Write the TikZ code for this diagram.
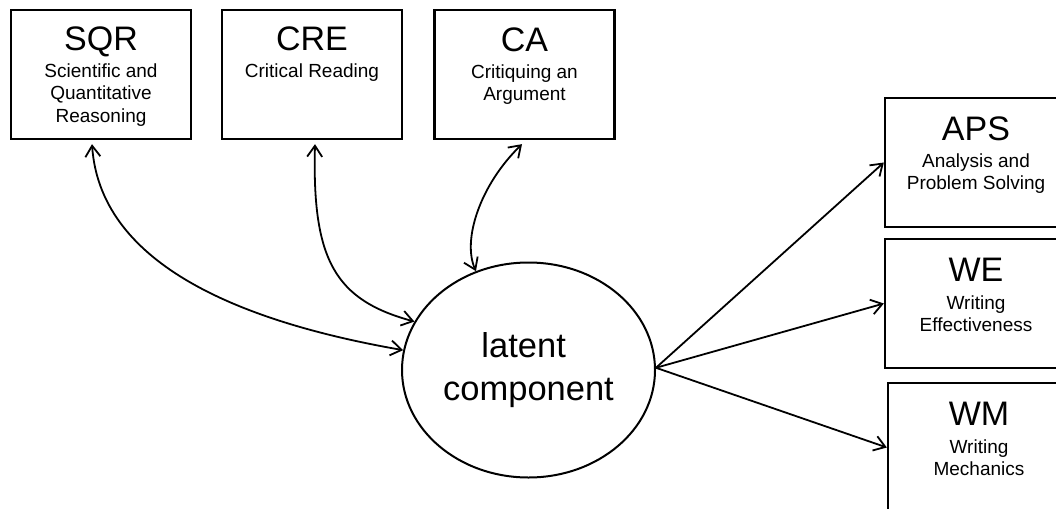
\documentclass[tikz,border=0pt]{standalone}
\usepackage{fontspec}
\setmainfont{Liberation Sans}
\usetikzlibrary{arrows.meta,shapes.geometric}

\begin{document}
\begin{tikzpicture}[x=1pt,y=-1pt,
  measure/.style={draw, line width=2.3pt, minimum width=180pt, minimum height=129pt, inner sep=0pt},
  wide/.style={measure, minimum width=182pt},
  title/.style={anchor=base, inner sep=0pt, font=\fontsize{34}{40}\selectfont},
  % multi-line texts are placed by the baseline of their last line
  subtitle/.style={anchor=base, inner sep=0pt, align=center, font=\fontsize{19}{22.5}\selectfont},
  tip/.tip={Straight Barb[length=11pt,width=15pt]},
  link/.style={line width=1.8pt, -tip},
  bilink/.style={line width=1.8pt, tip-tip},
]
\clip (0,0) rectangle (1056,508);
\fill[white] (0,0) rectangle (1056,508);

% observed measures, top row
\node[measure] (SQR) at (101,74.5) {};
\node[measure] (CRE) at (312,74.5) {};
\node[measure] (CA)  at (524.5,74.5) {};
\node[title] (SQRt) at ([yshift=-42pt]SQR.north) {SQR};
\node[title] (CREt) at ([yshift=-42pt]CRE.north) {CRE};
\node[title] (CAt)  at ([yshift=-42.5pt]CA.north) {CA};
\node[subtitle] (SQRs) at ([yshift=-113.5pt]SQR.north) {Scientific and\\Quantitative\\Reasoning};
\node[subtitle] (CREs) at ([yshift=-68.5pt]CRE.north) {Critical Reading};
\node[subtitle] (CAs)  at ([yshift=-92pt]CA.north) {Critiquing an\\Argument};

% observed measures, right column
\node[wide] (APS) at (976,162.5) {};
\node[wide] (WE)  at (976,303.5) {};
\node[wide] (WM)  at (979,447.5) {};
\node[title] (APSt) at ([yshift=-43.5pt]APS.north) {APS};
\node[title] (WEt)  at ([yshift=-44pt]WE.north) {WE};
\node[title] (WMt)  at ([yshift=-44pt]WM.north) {WM};
\node[subtitle] (APSs) at ([yshift=-93pt]APS.north) {Analysis and\\Problem Solving};
\node[subtitle] (WEs)  at ([yshift=-94pt]WE.north) {Writing\\Effectiveness};
\node[subtitle] (WMs)  at ([yshift=-94pt]WM.north) {Writing\\Mechanics};

% latent variable
\node[ellipse, draw, line width=2pt, minimum width=253pt, minimum height=215pt,
      inner sep=0pt, align=center, font=\fontsize{34.5}{43}\selectfont]
  (lat) at (528.5,370) {latent\hspace*{.28em}\\component};

% correlations with the top measures
\draw[bilink] ([xshift=-9pt,yshift=-4pt]SQR.south) .. controls (100,260) and (230,320) .. (lat.171);
\draw[bilink] ([xshift=3pt,yshift=-4pt]CRE.south) .. controls (312,260) and (335,300) .. (lat.157);
\draw[bilink] ([xshift=-2.5pt,yshift=-4pt]CA.south) .. controls (480,185) and (462,240) .. (lat.118);

% loadings on the right measures
\draw[link] (lat.1) -- (APS.west);
\draw[link] (lat.1) -- (WE.west);
\draw[link] (lat.1) -- (WM.west);
\end{tikzpicture}
\end{document}
